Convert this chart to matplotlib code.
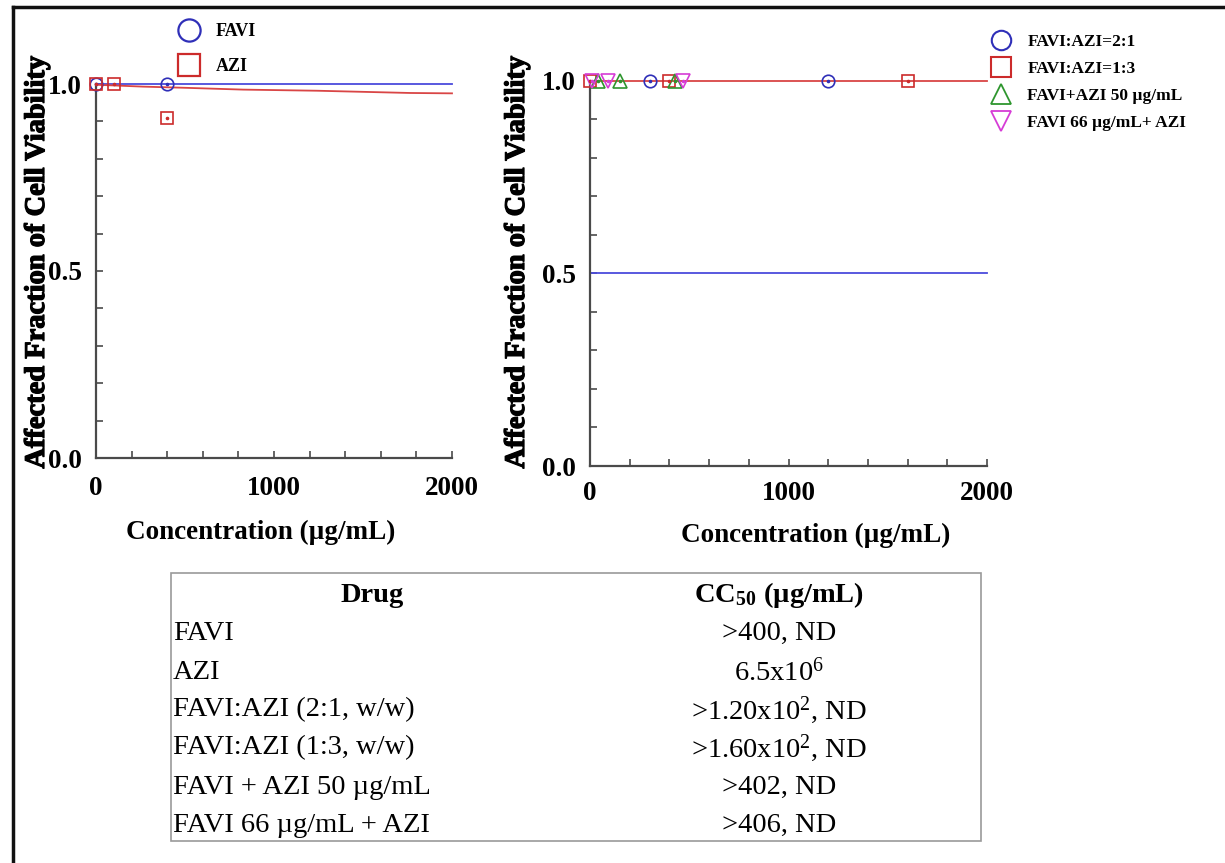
import matplotlib
matplotlib.use("Agg")
import matplotlib.pyplot as plt
from matplotlib.lines import Line2D
from matplotlib.patches import Rectangle
from matplotlib.ticker import FixedLocator, NullFormatter
import matplotlib.patheffects as pe

plt.rcParams['font.family'] = ['Liberation Serif', 'DejaVu Serif']
plt.rcParams['mathtext.default'] = 'regular'

W, H = 1225, 863

# ---------------- data ----------------
# Left panel
left_favi_x = [0, 400]
left_favi_y = [1.0, 1.0]
left_azi_x = [0, 100, 400]
left_azi_y = [1.0, 1.0, 0.91]
left_favi_fit_x = [0, 2000]
left_favi_fit_y = [1.0, 1.0]
left_azi_fit_x = [0, 264, 489, 826, 1242, 1764, 2000]
left_azi_fit_y = [0.998, 0.993, 0.990, 0.985, 0.982, 0.976, 0.975]

# Right panel
r21_x = [300, 1200]
r21_y = [1.0, 1.0]
r13_x = [0, 400, 1600]
r13_y = [1.0, 1.0, 1.0]
rfa50_x = [40, 150, 430]
rfa50_y = [1.0, 1.0, 1.0]
rf66a_x = [10, 90, 470]
rf66a_y = [1.0, 1.0, 1.0]
r21_fit_x = [0, 2000]
r21_fit_y = [0.5, 0.5]
r13_fit_x = [0, 2000]
r13_fit_y = [1.0, 1.0]

x_major = [0, 1000, 2000]
x_minor = [200, 400, 600, 800, 1200, 1400, 1600, 1800]
y_major = [0.0, 0.5, 1.0]
y_minor = [0.1, 0.2, 0.3, 0.4, 0.6, 0.7, 0.8, 0.9]
x_ticklabels = ['0', '1000', '2000']
y_ticklabels = ['0.0', '0.5', '1.0']

table_drugs = ["FAVI", "AZI", "FAVI:AZI (2:1, w/w)", "FAVI:AZI (1:3, w/w)",
               "FAVI + AZI 50 µg/mL", "FAVI 66 µg/mL + AZI"]
table_cc50 = [">400, ND", "6.5x10$^{6}$", ">1.20x10$^{2}$, ND",
              ">1.60x10$^{2}$, ND", ">402, ND", ">406, ND"]
table_header = ["Drug", "CC$_{50}$ (µg/mL)"]

# ---------------- colours ----------------
BLUE = '#2f2fb8'
BLUE_L = '#4b4bdc'
RED = '#cc2b2b'
RED_L = '#d94545'
GREEN = '#2e962e'
MAGENTA = '#d63cd6'
SPINE = '#4a4a4a'

fig = plt.figure(figsize=(W / 100, H / 100), dpi=100)


def fr(px, py):
    return px / W, 1 - py / H


def make_axes(x0, x1, y0, y1):
    # x0,x1 pixel left/right; y0 pixel of value 0 (bottom), y1 pixel of value 1 (top)
    ax = fig.add_axes([x0 / W, 1 - y0 / H, (x1 - x0) / W, (y0 - y1) / H])
    ax.set_xlim(0, 2000)
    ax.set_ylim(0, 1.0)
    for s in ['top', 'right']:
        ax.spines[s].set_visible(False)
    for s in ['left', 'bottom']:
        ax.spines[s].set_color(SPINE)
        ax.spines[s].set_linewidth(1.6)
    ax.xaxis.set_major_locator(FixedLocator(x_major))
    ax.xaxis.set_minor_locator(FixedLocator(x_minor))
    ax.yaxis.set_major_locator(FixedLocator(y_major))
    ax.yaxis.set_minor_locator(FixedLocator(y_minor))
    ax.xaxis.set_minor_formatter(NullFormatter())
    ax.yaxis.set_minor_formatter(NullFormatter())
    ax.tick_params(which='both', direction='in', length=5, width=1.2, color=SPINE)
    ax.set_xticklabels(x_ticklabels)
    ax.set_yticklabels(y_ticklabels)
    for lab in ax.get_xticklabels() + ax.get_yticklabels():
        lab.set_fontweight('bold')
        lab.set_fontsize(19.5)
    ax.patch.set_alpha(0)
    return ax


def pts(ax, x, y, marker, color, ms=9):
    ax.plot(x, y, linestyle='none', marker=marker, ms=ms, mfc='none',
            mec=color, mew=1.2, clip_on=False, zorder=5)
    ax.plot(x, y, linestyle='none', marker='o', ms=1.6, mfc=color,
            mec=color, clip_on=False, zorder=6)


LABEL_KW = dict(fontsize=19.5, fontweight='bold')
YLABEL_KW = dict(fontsize=20.5, fontweight='bold',
                 path_effects=[pe.withStroke(linewidth=0.9, foreground='black')])

# ---------------- left panel ----------------
axL = make_axes(96, 452, 458, 84)
axL.tick_params(axis='x', pad=13)
axL.tick_params(axis='y', pad=10)
axL.plot(left_favi_fit_x, left_favi_fit_y, color=BLUE_L, lw=1.3, clip_on=False)
axL.plot(left_azi_fit_x, left_azi_fit_y, color=RED_L, lw=1.3, clip_on=False)
pts(axL, left_favi_x, left_favi_y, 'o', BLUE)
pts(axL, left_azi_x, left_azi_y, 's', RED, ms=8.5)
axL.set_xlabel("Concentration (µg/mL)", **LABEL_KW)
axL.set_ylabel("Affected Fraction of Cell Viability", **YLABEL_KW)
axL.xaxis.set_label_coords((261 - 96) / 356, -(520 - 458) / 374)
axL.yaxis.set_label_coords((50 - 96) / 356, (458 - 262) / 374)

legL_handles = [
    Line2D([], [], linestyle='none', marker='o', ms=16, mfc='none', mec=BLUE, mew=1.6),
    Line2D([], [], linestyle='none', marker='s', ms=16, mfc='none', mec=RED, mew=1.6),
]
fig.legend(legL_handles, ["FAVI", "AZI"], loc='upper left',
           bbox_to_anchor=fr(178, 23), frameon=False,
           prop={'weight': 'bold', 'size': 13}, labelspacing=1.0,
           handlelength=1.2, handletextpad=0.9, borderpad=0, borderaxespad=0)

# ---------------- right panel ----------------
axR = make_axes(590, 987, 466, 81)
axR.tick_params(axis='x', pad=11)
axR.tick_params(axis='y', pad=10)
axR.plot(r21_fit_x, r21_fit_y, color=BLUE_L, lw=1.3, clip_on=False)
axR.plot(r13_fit_x, r13_fit_y, color=RED_L, lw=1.3, clip_on=False)
pts(axR, r21_x, r21_y, 'o', BLUE)
pts(axR, r13_x, r13_y, 's', RED, ms=8.5)
pts(axR, rfa50_x, rfa50_y, '^', GREEN, ms=10)
pts(axR, rf66a_x, rf66a_y, 'v', MAGENTA, ms=10)
axR.set_xlabel("Concentration (µg/mL)", **LABEL_KW)
axR.set_ylabel("Affected Fraction of Cell Viability", **YLABEL_KW)
axR.xaxis.set_label_coords((816 - 590) / 397, -(523 - 466) / 385)
axR.yaxis.set_label_coords((530 - 590) / 397, (466 - 262) / 385)

legR_handles = [
    Line2D([], [], linestyle='none', marker='o', ms=14, mfc='none', mec=BLUE, mew=1.5),
    Line2D([], [], linestyle='none', marker='s', ms=14, mfc='none', mec=RED, mew=1.5),
    Line2D([], [], linestyle='none', marker='^', ms=15, mfc='none', mec=GREEN, mew=1.3),
    Line2D([], [], linestyle='none', marker='v', ms=15, mfc='none', mec=MAGENTA, mew=1.3),
]
fig.legend(legR_handles, ["FAVI:AZI=2:1", "FAVI:AZI=1:3", "FAVI+AZI 50 µg/mL",
                          "FAVI 66 µg/mL+ AZI"], loc='upper left',
           bbox_to_anchor=fr(991, 34), frameon=False,
           prop={'weight': 'bold', 'size': 12.5}, labelspacing=0.62,
           handlelength=1.2, handletextpad=0.9, borderpad=0, borderaxespad=0)

# ---------------- table ----------------
x0, y0 = fr(171, 841)
x1, y1 = fr(981, 573)
fig.patches.append(Rectangle((x0, y0), x1 - x0, y1 - y0, transform=fig.transFigure,
                             fill=False, edgecolor='#9a9a9a', lw=1.2))
TFS = 20.5
hx, hy = fr(372, 595)
fig.text(hx, hy, table_header[0], ha='center', va='center', fontsize=TFS, fontweight='bold')
hx, hy = fr(779, 595)
fig.text(hx, hy, table_header[1], ha='center', va='center', fontsize=TFS, fontweight='bold')
row_y = [633, 672, 710, 748, 787, 825]
for name, val, ry in zip(table_drugs, table_cc50, row_y):
    tx, ty = fr(173, ry)
    fig.text(tx, ty, name, ha='left', va='center', fontsize=TFS)
    tx, ty = fr(779, ry)
    fig.text(tx, ty, val, ha='center', va='center', fontsize=TFS)

# ---------------- outer frame (top and left edges) ----------------
fig.add_artist(Line2D([13 / W, 13 / W], [0, 1 - 7 / H], transform=fig.transFigure,
                      color='#111111', lw=2.5))
fig.add_artist(Line2D([13 / W, 1], [1 - 7 / H, 1 - 7 / H], transform=fig.transFigure,
                      color='#111111', lw=2.5))

fig.savefig("out.png", dpi=100)
